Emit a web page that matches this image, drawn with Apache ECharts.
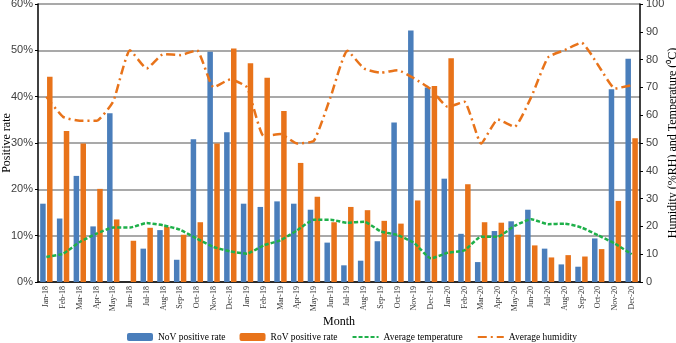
<!DOCTYPE html>
<html>
<head>
<meta charset="utf-8">
<script src="https://cdn.jsdelivr.net/npm/echarts@6/dist/echarts.min.js"></script>
<style>
  html, body { margin: 0; padding: 0; background: #fff; }
  #chart { width: 676px; height: 343px; }
</style>
</head>
<body>
<div id="chart"></div>
<script>
// months on the x axis
const months = [
  "Jan-18", "Feb-18", "Mar-18", "Apr-18", "May-18", "Jun-18", "Jul-18", "Aug-18", "Sep-18", "Oct-18", "Nov-18", "Dec-18",
  "Jan-19", "Feb-19", "Mar-19", "Apr-19", "May-19", "Jun-19", "Jul-19", "Aug-19", "Sep-19", "Oct-19", "Nov-19", "Dec-19",
  "Jan-20", "Feb-20", "Mar-20", "Apr-20", "May-20", "Jun-20", "Jul-20", "Aug-20", "Sep-20", "Oct-20", "Nov-20", "Dec-20",
];

// positive rates, %
const novRate = [
  16.9, 13.7, 22.9, 12.0, 36.4, 0, 7.2, 11.2, 4.8, 30.8, 49.7, 32.3,
  16.9, 16.2, 17.4, 16.9, 15.6, 8.5, 3.6, 4.6, 8.8, 34.4, 54.3, 42.0,
  22.3, 10.4, 4.3, 11.0, 13.1, 15.6, 7.2, 3.8, 3.3, 9.4, 41.6, 48.2,
];
const rovRate = [
  44.3, 32.6, 29.9, 20.1, 13.5, 8.9, 11.7, 11.9, 10.2, 12.9, 29.9, 50.4,
  47.2, 44.1, 36.9, 25.7, 18.4, 12.9, 16.2, 15.5, 13.2, 12.6, 17.6, 42.3,
  48.3, 21.1, 12.9, 12.8, 10.2, 7.9, 5.3, 5.8, 5.5, 7.1, 17.5, 31.0,
];

// right axis: temperature (C) and humidity (%RH)
const avgTemp = [
  9.0, 10.2, 14.4, 17.4, 19.6, 19.6, 21.2, 20.4, 18.8, 15.6, 12.6, 11.0,
  10.2, 13.2, 15.0, 18.6, 22.4, 22.4, 21.3, 21.7, 18.2, 16.9, 14.0, 8.5,
  10.5, 11.4, 16.3, 16.3, 20.2, 22.6, 20.8, 21.0, 19.6, 16.8, 13.8, 10.0,
];
const avgHumidity = [
  66.6, 59.4, 58.0, 58.0, 65.0, 83.4, 76.8, 82.0, 81.6, 83.4, 70.0, 72.9,
  70.0, 52.5, 53.2, 49.8, 50.8, 66.6, 83.2, 76.8, 75.3, 76.2, 73.2, 69.3,
  63.0, 64.8, 49.8, 58.5, 55.8, 66.6, 80.8, 83.4, 86.1, 78.0, 69.6, 70.8,
];

const serif = "Liberation Serif";
const sans = "Liberation Sans";

const chart = echarts.init(document.getElementById("chart"));

chart.setOption({
  animation: false,
  grid: { left: 38, right: 36, top: 4, bottom: 61, outerBoundsMode: "none" },
  legend: {
    left: 127,
    bottom: 1,
    padding: 0,
    itemWidth: 26,
    itemHeight: 8,
    itemGap: 14,
    textStyle: { fontFamily: serif, fontSize: 9.5, color: "#000" },
    data: [
      "NoV positive rate",
      "RoV positive rate",
      // hide the circle ECharts puts on line legend icons
      { name: "Average temperature", itemStyle: { opacity: 0 } },
      { name: "Average humidity", itemStyle: { opacity: 0 } },
    ],
  },
  xAxis: {
    type: "category",
    data: months,
    name: "Month",
    nameLocation: "middle",
    nameGap: 34,
    nameMoveOverlap: false,
    nameTextStyle: { fontFamily: serif, fontSize: 12, color: "#000" },
    axisLine: { lineStyle: { color: "#000", width: 1.5 } },
    axisTick: { length: 4, lineStyle: { color: "#000" } },
    axisLabel: { rotate: 90, fontFamily: serif, fontSize: 8, color: "#333", margin: 4, interval: 0 },
  },
  yAxis: [
    {
      type: "value",
      min: 0,
      max: 60,
      interval: 10,
      name: "Positive rate",
      nameLocation: "middle",
      nameGap: 25,
      nameMoveOverlap: false,
      nameTextStyle: { fontFamily: serif, fontSize: 12, color: "#000" },
      axisLine: { show: true, lineStyle: { color: "#000", width: 1.5 } },
      axisTick: { show: true, length: 3, lineStyle: { color: "#000" } },
      axisLabel: { formatter: "{value}%", fontFamily: sans, fontSize: 11, color: "#404040", margin: 5 },
      splitLine: { lineStyle: { color: "#8c8c8c", width: 1.5 } },
    },
    {
      type: "value",
      min: 0,
      max: 100,
      interval: 10,
      name: "Humidity (%RH) and Temperature (\u2070C)",
      nameLocation: "middle",
      nameRotate: 90,
      nameGap: 27,
      nameMoveOverlap: false,
      nameTextStyle: { fontFamily: serif, fontSize: 12, color: "#000" },
      axisLine: { show: true, lineStyle: { color: "#000", width: 1.5 } },
      axisTick: { show: true, length: 3, lineStyle: { color: "#000" } },
      axisLabel: { fontFamily: sans, fontSize: 11, color: "#404040", margin: 6 },
      splitLine: { show: false },
    },
  ],
  series: [
    {
      name: "NoV positive rate",
      type: "bar",
      data: novRate,
      barWidth: 5.5,
      barGap: "25%",
      itemStyle: { color: "#4a7ebb" },
    },
    {
      name: "RoV positive rate",
      type: "bar",
      data: rovRate,
      barWidth: 5.5,
      barGap: "25%",
      itemStyle: { color: "#e8731a" },
    },
    {
      name: "Average temperature",
      type: "line",
      yAxisIndex: 1,
      data: avgTemp,
      symbol: "none",
      smooth: 0.15,
      lineStyle: { color: "#1fb04a", width: 2.5, type: [4, 2] },
      itemStyle: { color: "#1fb04a" },
      z: 3,
    },
    {
      name: "Average humidity",
      type: "line",
      yAxisIndex: 1,
      data: avgHumidity,
      symbol: "none",
      smooth: 0.15,
      lineStyle: { color: "#e8731a", width: 2.5, type: [9, 4, 2, 4] },
      itemStyle: { color: "#e8731a" },
      z: 3,
    },
  ],
});
</script>
</body>
</html>
